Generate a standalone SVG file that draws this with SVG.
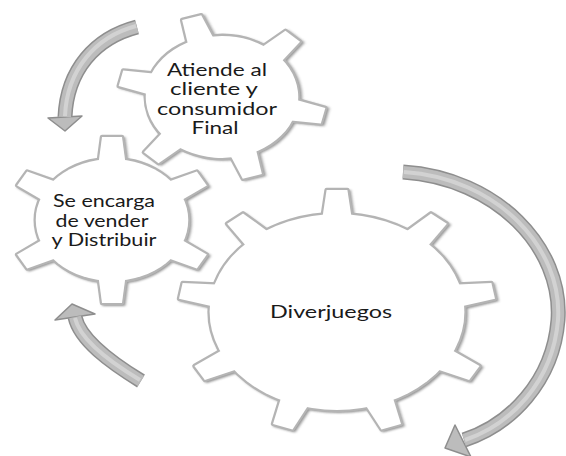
<svg xmlns="http://www.w3.org/2000/svg" xmlns:xlink="http://www.w3.org/1999/xlink" width="566" height="456" viewBox="0 0 566 456">
  <style>
    .shadow { fill: #4a4a4a; stroke: #4a4a4a; stroke-width: 3; opacity: 0.6; }
    .edge { fill: #b4b4b4; stroke: #b4b4b4; stroke-width: 4.5; stroke-linejoin: round; }
    .face { fill: #ffffff; stroke: none; }
    .label { font-family: Lato, "Open Sans", "Liberation Sans", sans-serif; font-size: 17.5px; fill: #1a1a1a; text-anchor: middle; }
    .arrow-edge { fill: none; stroke: #8e8e8e; stroke-width: 15; }
    .arrow-body { fill: none; stroke: #bcbcbc; stroke-width: 12; }
    .arrow-hl { fill: none; stroke: #d2d2d2; stroke-width: 4; }
    .arrow-head { fill: #bcbcbc; stroke: #8e8e8e; stroke-width: 1.5; stroke-linejoin: round; }
  </style>
  <defs>
    <filter id="soft" x="-20%" y="-20%" width="140%" height="140%">
      <feGaussianBlur stdDeviation="1.2"/>
    </filter>
    <!-- single teeth, pointing up, in unit gear space -->
    <polygon id="tooth9" points="-11.5,-92 -8,-122 8,-122 11.5,-92" vector-effect="non-scaling-stroke"/>
    <polygon id="tooth6" points="-11,-55 -8,-83 8,-83 11,-55" vector-effect="non-scaling-stroke"/>
    <!-- nine-tooth gear -->
    <g id="gear9">
      <circle r="98" vector-effect="non-scaling-stroke"/>
      <use xlink:href="#tooth9"/>
      <use xlink:href="#tooth9" transform="rotate(40)"/>
      <use xlink:href="#tooth9" transform="rotate(80)"/>
      <use xlink:href="#tooth9" transform="rotate(120)"/>
      <use xlink:href="#tooth9" transform="rotate(160)"/>
      <use xlink:href="#tooth9" transform="rotate(200)"/>
      <use xlink:href="#tooth9" transform="rotate(240)"/>
      <use xlink:href="#tooth9" transform="rotate(280)"/>
      <use xlink:href="#tooth9" transform="rotate(320)"/>
    </g>
    <!-- six-tooth gear -->
    <g id="gear6">
      <circle r="61" vector-effect="non-scaling-stroke"/>
      <use xlink:href="#tooth6"/>
      <use xlink:href="#tooth6" transform="rotate(60)"/>
      <use xlink:href="#tooth6" transform="rotate(120)"/>
      <use xlink:href="#tooth6" transform="rotate(180)"/>
      <use xlink:href="#tooth6" transform="rotate(240)"/>
      <use xlink:href="#tooth6" transform="rotate(300)"/>
    </g>
  </defs>

  <rect width="566" height="456" fill="#ffffff"/>

  <!-- curved cycle arrows -->
  <g id="connectors">
    <g id="arrow-top">
      <path class="arrow-edge" d="M137,27 C95,38 67,70 65,117"/>
      <polygon class="arrow-head" points="48,118 82,116 65,131"/>
      <path class="arrow-body" d="M137,27 C95,38 67,70 65,117"/>
      <path class="arrow-hl" d="M136,26 C95,37 67,70 65,116"/>
    </g>
    <g id="arrow-right">
      <path class="arrow-edge" d="M403,172 C497,178 563,248 558,320 C553,382 510,425 464,440"/>
      <polygon class="arrow-head" points="455,425 471,457 445,448"/>
      <path class="arrow-body" d="M403,172 C497,178 563,248 558,320 C553,382 510,425 464,440"/>
      <path class="arrow-hl" d="M404,172 C497,178 563,248 558,320 C553,382 510,425 465,440"/>
    </g>
    <g id="arrow-bottom">
      <path class="arrow-edge" d="M141,381 C110,362 80,340 75,317"/>
      <polygon class="arrow-head" points="55,320 95,314 72,304"/>
      <path class="arrow-body" d="M141,381 C110,362 80,340 75,317"/>
      <path class="arrow-hl" d="M140,380 C110,362 80,340 75,318"/>
    </g>
  </g>

  <!-- main gear -->
  <g id="node-diverjuegos">
    <g transform="translate(337,312) scale(1.3,1)">
      <use xlink:href="#gear9" class="shadow" filter="url(#soft)" transform="translate(1.5,1.5)"/>
      <use xlink:href="#gear9" class="edge"/>
      <use xlink:href="#gear9" class="face"/>
    </g>
    <text class="label" x="331" y="318" textLength="122" lengthAdjust="spacingAndGlyphs">Diverjuegos</text>
  </g>

  <!-- customer gear -->
  <g id="node-atiende">
    <g transform="translate(222,97) scale(1.25,1) rotate(-17)">
      <use xlink:href="#gear6" class="shadow" filter="url(#soft)" transform="translate(1.5,1.5)"/>
      <use xlink:href="#gear6" class="edge"/>
      <use xlink:href="#gear6" class="face"/>
    </g>
    <text class="label" x="217" y="76" textLength="100" lengthAdjust="spacingAndGlyphs">Atiende al</text>
    <text class="label" x="214" y="95" textLength="88" lengthAdjust="spacingAndGlyphs">cliente y</text>
    <text class="label" x="217" y="115" textLength="120" lengthAdjust="spacingAndGlyphs">consumidor</text>
    <text class="label" x="215" y="134" textLength="47" lengthAdjust="spacingAndGlyphs">Final</text>
  </g>

  <!-- sales gear -->
  <g id="node-vender">
    <g transform="translate(112,220) scale(1.25,1)">
      <use xlink:href="#gear6" class="shadow" filter="url(#soft)" transform="translate(1.5,1.5)"/>
      <use xlink:href="#gear6" class="edge"/>
      <use xlink:href="#gear6" class="face"/>
    </g>
    <text class="label" x="104" y="207" textLength="102" lengthAdjust="spacingAndGlyphs">Se encarga</text>
    <text class="label" x="102" y="227" textLength="93" lengthAdjust="spacingAndGlyphs">de vender</text>
    <text class="label" x="104" y="246" textLength="105" lengthAdjust="spacingAndGlyphs">y Distribuir</text>
  </g>
</svg>
